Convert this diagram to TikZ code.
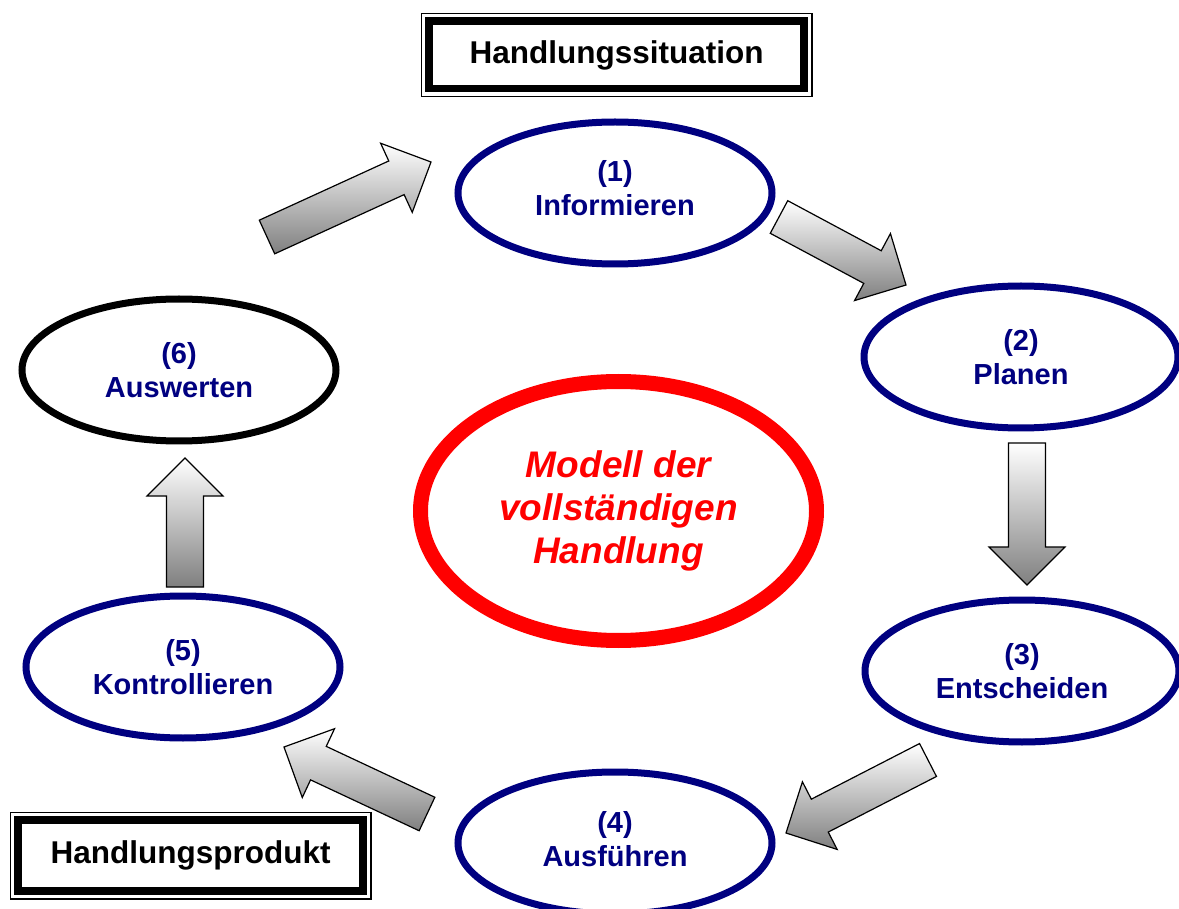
\documentclass[tikz,border=0pt]{standalone}
\usepackage{fontspec}
\setmainfont{Liberation Sans}
\usetikzlibrary{shapes.geometric, calc}
\definecolor{navy}{RGB}{0,0,128}
\tikzset{
  stage/.style={ellipse, draw=navy, line width=7pt, minimum width=314pt, minimum height=142pt,
    inner sep=0pt, align=center, text=navy, font=\fontsize{29}{34}\selectfont\bfseries},
  pbox/.style={rectangle, draw, line width=7.5pt, inner sep=0pt, font=\fontsize{31.5}{36}\selectfont\bfseries},
  arrowbox/.style={draw=black, line width=1.2pt, line join=miter, top color=white, bottom color=gray}
}
% block arrow from tail centre #1 to tip #2
\newcommand{\blockarrow}[2]{%
  \shade[arrowbox] ($(#1)!18.5pt!90:(#2)$) -- ($(#2)!38pt!(#1)!18.5pt!90:(#2)$)
    -- ($(#2)!38pt!(#1)!38pt!90:(#2)$) -- (#2) -- ($(#2)!38pt!(#1)!38pt!-90:(#2)$)
    -- ($(#2)!38pt!(#1)!18.5pt!-90:(#2)$) -- ($(#1)!18.5pt!-90:(#2)$) -- cycle;}

\begin{document}
\begin{tikzpicture}[x=1pt, y=-1pt]
  \useasboundingbox (0,0) rectangle (1179,909);

  % Draw the six steps
  \node[stage, text depth=10pt] (inf) at (615,193) {(1)\\Informieren};
  \node[stage] (plan) at (1021,357) {(2)\\Planen};
  \node[stage] (ent) at (1022,671) {(3)\\Entscheiden};
  \node[stage, text depth=8pt] (aus) at (615,843) {(4)\\Ausführen};
  \node[stage] (kon) at (183,667) {(5)\\Kontrollieren};
  \node[stage, draw=black] (ausw) at (179,370) {(6)\\Auswerten};

  % Draw the model in the middle
  \node[ellipse, draw=red, line width=15pt, minimum width=396pt, minimum height=259pt,
    inner sep=0pt, align=center, text=red, font=\fontsize{37}{43}\selectfont\bfseries\itshape]
    (model) at (618.5,511) {Modell der\\vollständigen\\Handlung};

  % Draw the two framed boxes
  \node[pbox, minimum width=375pt, minimum height=67.5pt] (sit) at (616.5,55) {Handlungssituation};
  \draw[line width=1.5pt] ([xshift=-4pt,yshift=4pt]sit.north west) rectangle ([xshift=4pt,yshift=-4pt]sit.south east);
  \node[pbox, minimum width=345pt, minimum height=71pt] (prod) at (190.5,855.5) {Handlungsprodukt};
  \draw[line width=1.5pt] ([xshift=-4pt,yshift=4pt]prod.north west) rectangle ([xshift=4pt,yshift=-4pt]prod.south east);

  % Draw the arrows between the steps
  \coordinate (a61s) at (267,237);  \coordinate (a61e) at (431,162);
  \coordinate (a12s) at (779,217);  \coordinate (a12e) at (906,285);
  \coordinate (a23s) at (1027,443); \coordinate (a23e) at (1027,585);
  \coordinate (a34s) at (928,760);  \coordinate (a34e) at (786,833);
  \coordinate (a45s) at (427,814);  \coordinate (a45e) at (284,747);
  \coordinate (a56s) at (185,587);  \coordinate (a56e) at (185,458);
  \blockarrow{a61s}{a61e}
  \blockarrow{a12s}{a12e}
  \blockarrow{a23s}{a23e}
  \blockarrow{a34s}{a34e}
  \blockarrow{a45s}{a45e}
  \blockarrow{a56s}{a56e}
\end{tikzpicture}
\end{document}
